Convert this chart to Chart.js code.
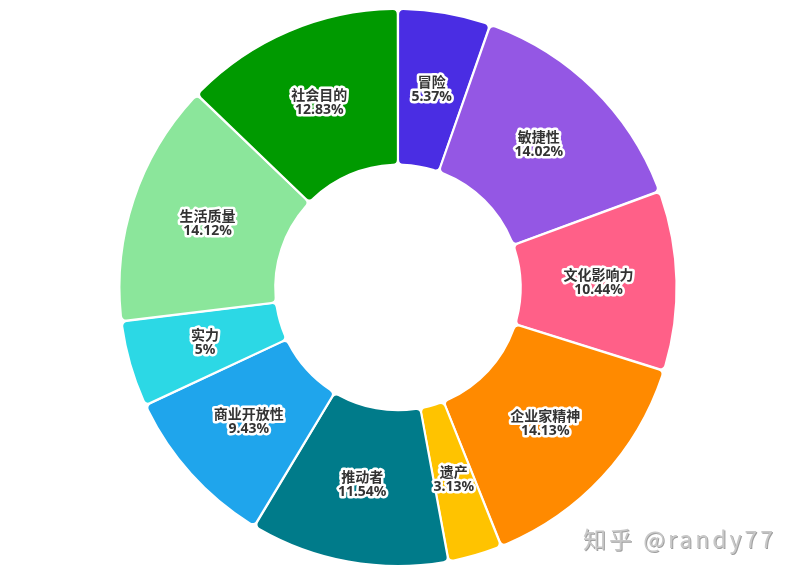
<!DOCTYPE html>
<html>
<head>
<meta charset="utf-8">
<script src="https://cdn.jsdelivr.net/npm/chart.js@4"></script>
<style>
  html, body { margin: 0; padding: 0; background: #fff; }
  #wrap { position: relative; width: 796px; height: 575px; }
  #mark { position: absolute; left: 583px; top: 521px; font: 23px "Noto Sans CJK SC", sans-serif; color: #c8c8c8; text-shadow: 1px 1px 0 #a0a0a0; letter-spacing: 3px; white-space: nowrap; }
</style>
</head>
<body>
<div id="wrap">
  <canvas id="grafico" width="796" height="575"></canvas>
  <div id="mark">知乎 @randy77</div>
</div>
<script>
// Categorías y valores (%)
const categorias = ['冒险', '敏捷性', '文化影响力', '企业家精神', '遗产', '推动者', '商业开放性', '实力', '生活质量', '社会目的']
const valores = [5.37, 14.02, 10.44, 14.13, 3.13, 11.54, 9.43, 5, 14.12, 12.83]
const colores = ['#4a2de3', '#9457e4', '#ff6088', '#ff8a00', '#ffc300', '#007b8a', '#1fa5ec', '#2cd8e5', '#8be69b', '#009a00']

// etiquetas dentro de cada sector
const etiquetasPlugin = {
  id: 'etiquetas',
  afterDatasetsDraw(chart) {
    const ctx = chart.ctx
    const meta = chart.getDatasetMeta(0)
    ctx.save()
    ctx.font = 'bold 14px "Noto Sans", "Noto Sans CJK SC", sans-serif'
    ctx.textAlign = 'center'
    ctx.textBaseline = 'middle'
    ctx.lineJoin = 'round'
    meta.data.forEach((arc, i) => {
      const p = arc.tooltipPosition()
      const lineas = [categorias[i], valores[i] + '%']
      // primero el contorno blanco, luego el texto
      lineas.forEach((t, k) => {
        ctx.strokeStyle = '#fff'
        ctx.lineWidth = 5
        ctx.strokeText(t, p.x, p.y + (k === 0 ? -7 : 7))
      })
      lineas.forEach((t, k) => {
        ctx.fillStyle = '#333'
        ctx.fillText(t, p.x, p.y + (k === 0 ? -7 : 7))
      })
    })
    ctx.restore()
  }
}

new Chart(document.getElementById('grafico'), {
  type: 'doughnut',
  data: {
    labels: categorias,
    datasets: [{
      data: valores,
      backgroundColor: colores,
      borderColor: '#fff',
      borderWidth: 2,
      borderRadius: 5,
      spacing: 1
    }]
  },
  options: {
    responsive: false,
    animation: false,
    cutout: '44%',
    layout: { padding: 8 },
    plugins: {
      legend: { display: false },
      tooltip: { enabled: false }
    }
  },
  plugins: [etiquetasPlugin]
})
</script>
</body>
</html>
